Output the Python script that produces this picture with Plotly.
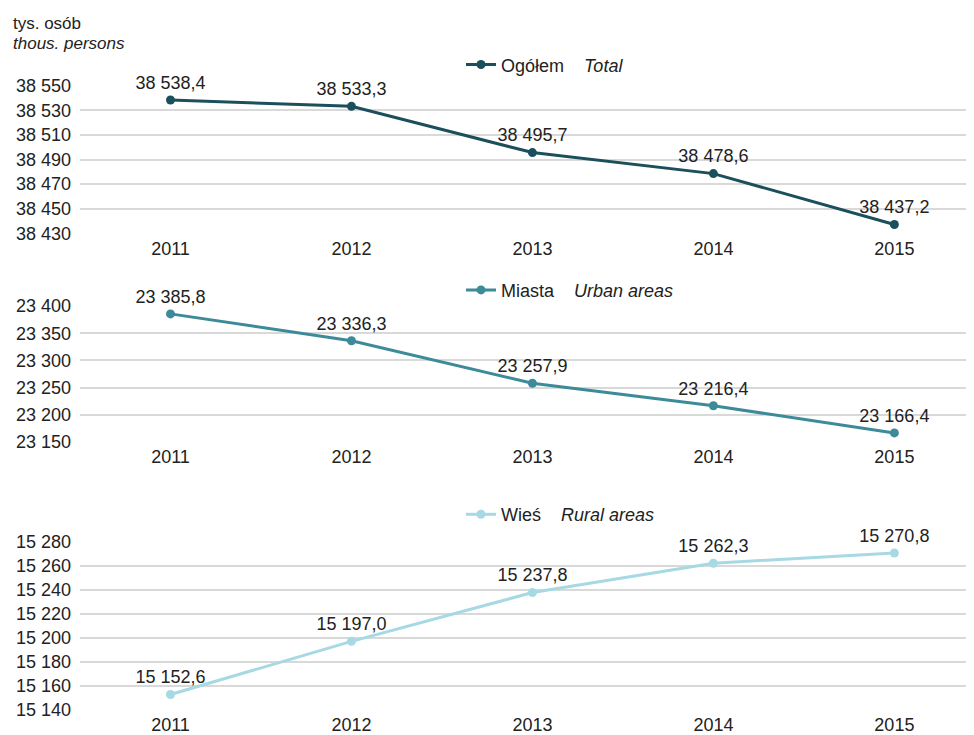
import plotly.graph_objects as go

years = ["2011", "2012", "2013", "2014", "2015"]
total = [38538.4, 38533.3, 38495.7, 38478.6, 38437.2]
urban = [23385.8, 23336.3, 23257.9, 23216.4, 23166.4]
rural = [15152.6, 15197.0, 15237.8, 15262.3, 15270.8]

total_ticks = [38430, 38450, 38470, 38490, 38510, 38530, 38550]
urban_ticks = [23150, 23200, 23250, 23300, 23350, 23400]
rural_ticks = [15140, 15160, 15180, 15200, 15220, 15240, 15260, 15280]

names = ["Ogółem\u00a0\u00a0\u00a0\u00a0<i>Total</i>",
         "Miasta\u00a0\u00a0\u00a0\u00a0<i>Urban areas</i>",
         "Wieś\u00a0\u00a0\u00a0\u00a0<i>Rural areas</i>"]
colors = ["#1c4f5c", "#3d8a99", "#a6d9e3"]

OFF = 8  # page body margin
W, H = 974 - OFF, 735 - OFF
L = 72
PW = W - L
FONT = "Liberation Sans, Arial, sans-serif"
FS = 18


def fmt(v):
    s = f"{v:,.1f}"
    return s.replace(",", " ").replace(".", ",")


def domain_for(ptop, pbot, vtop, vbot, pad):
    ptop -= OFF
    pbot -= OFF
    scale = (pbot - ptop) / (vtop - vbot)
    top_px = ptop - pad * scale
    bot_px = pbot + pad * scale
    return [1 - bot_px / H, 1 - top_px / H], [vbot - pad, vtop + pad]


panels = [
    (total, total_ticks, 86, 234),
    (urban, urban_ticks, 307, 443),
    (rural, rural_ticks, 543.5, 711.5),
]
legend_y = [65, 291, 516]

fig = go.Figure()
layout = dict(
    width=W, height=H,
    margin=dict(l=L, r=0, t=0, b=0),
    paper_bgcolor="white", plot_bgcolor="white",
    font=dict(family=FONT, size=FS, color="#222222"),
    separators=", ",
    showlegend=True,
)

for i, (vals, ticks, ptop, pbot) in enumerate(panels):
    n = "" if i == 0 else str(i + 1)
    pad = (ticks[-1] - ticks[0]) * 0.004
    dom, rng = domain_for(ptop, pbot, ticks[-1], ticks[0], pad)
    fig.add_trace(go.Scatter(
        x=list(range(len(years))), y=vals,
        mode="lines+markers+text",
        text=[fmt(v) for v in vals],
        textposition="top center",
        textfont=dict(family=FONT, size=FS, color="#222222"),
        line=dict(color=colors[i], width=3),
        marker=dict(color=colors[i], size=9),
        name=names[i],
        xaxis="x" + n, yaxis="y" + n,
        legend="legend" + n,
        cliponaxis=False,
    ))
    layout["xaxis" + n] = dict(
        domain=[0, 1], anchor="y" + n,
        range=[-0.5, 4.44],
        tickmode="array", tickvals=list(range(len(years))), ticktext=years,
        showgrid=False, zeroline=False, showline=False, ticks="",
        tickfont=dict(family=FONT, size=FS, color="#222222"),
        ticklabelstandoff=2,
    )
    layout["yaxis" + n] = dict(
        domain=dom, anchor="x" + n, range=rng,
        tickmode="array", tickvals=ticks,
        ticktext=[fmt(t)[:-2] for t in ticks],
        showgrid=True, gridcolor="#d9d9d9", gridwidth=1.5,
        zeroline=False, showline=False, ticks="",
        tickfont=dict(family=FONT, size=FS, color="#222222"),
        ticklabelstandoff=8, automargin=False,
    )
    layout["legend" + n] = dict(
        x=(461 - OFF - L) / PW, xanchor="left",
        y=1 - (legend_y[i] - OFF) / H, yanchor="middle",
        bgcolor="rgba(0,0,0,0)", borderwidth=0,
        font=dict(family=FONT, size=FS, color="#222222"),
        orientation="h",
    )

fig.update_layout(**layout)

fig.add_annotation(text="tys. osób", xref="paper", yref="paper",
                   x=(12 - OFF - L) / PW, y=1 - (24 - OFF) / H,
                   xanchor="left", yanchor="middle", borderpad=0,
                   showarrow=False, font=dict(family=FONT, size=17, color="#222222"))
fig.add_annotation(text="<i>thous. persons</i>", xref="paper", yref="paper",
                   x=(12 - OFF - L) / PW, y=1 - (44 - OFF) / H,
                   xanchor="left", yanchor="middle", borderpad=0,
                   showarrow=False, font=dict(family=FONT, size=17, color="#222222"))

fig.write_html("out.html")
